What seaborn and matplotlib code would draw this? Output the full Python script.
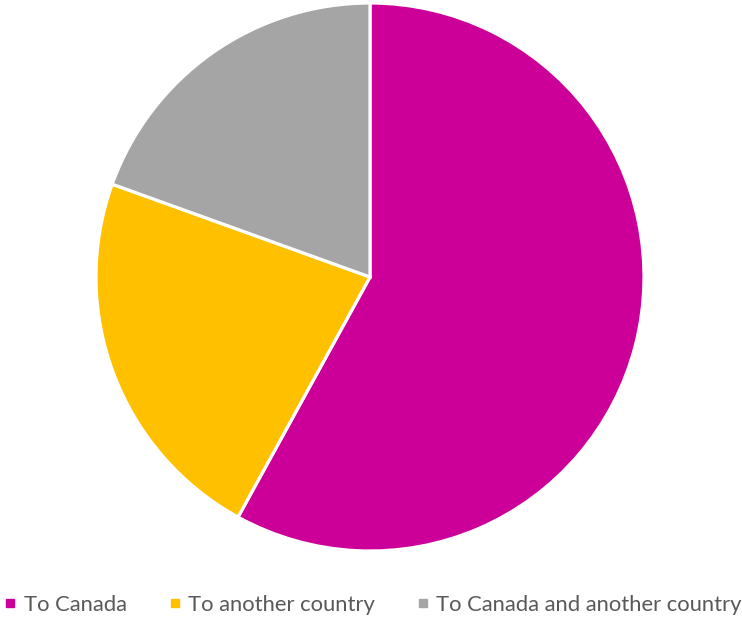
import matplotlib
matplotlib.use("Agg")
import matplotlib.pyplot as plt
from matplotlib.lines import Line2D
import seaborn as sns

# Share of respondents by destination
categories = ["To Canada", "To another country", "To Canada and another country"]
shares = [58.0, 22.5, 19.5]
colors = ["#CC0099", "#FFC000", "#A5A5A5"]

sns.set_theme(style="white")
plt.rcParams["font.family"] = ["Lato", "DejaVu Sans"]

W, H = 742, 619
fig = plt.figure(figsize=(W / 100, H / 100), dpi=100)
cx, cy, r = 370, 277, 274
ax = fig.add_axes([(cx - r) / W, (H - cy - r) / H, 2 * r / W, 2 * r / H])

ax.pie(
    shares,
    colors=colors,
    startangle=90,
    counterclock=False,
    radius=1.0,
    wedgeprops=dict(edgecolor="white", linewidth=2.3),
)
ax.set_xlim(-1, 1)
ax.set_ylim(-1, 1)
ax.set_aspect("equal")
ax.axis("off")

handles = [
    Line2D([], [], marker="s", linestyle="", markersize=6.2,
           markerfacecolor=c, markeredgecolor=c, label=lab)
    for c, lab in zip(colors, categories)
]
leg = fig.legend(
    handles=handles,
    loc="center",
    bbox_to_anchor=(374 / W, 1 - 605 / H),
    ncol=3,
    frameon=False,
    fontsize=15.8,
    handlelength=0.4,
    handletextpad=0.4,
    columnspacing=2.0,
    borderpad=0,
    borderaxespad=0,
)
for t in leg.get_texts():
    t.set_color("#595959")

fig.savefig("out.png", dpi=100, facecolor="white")
